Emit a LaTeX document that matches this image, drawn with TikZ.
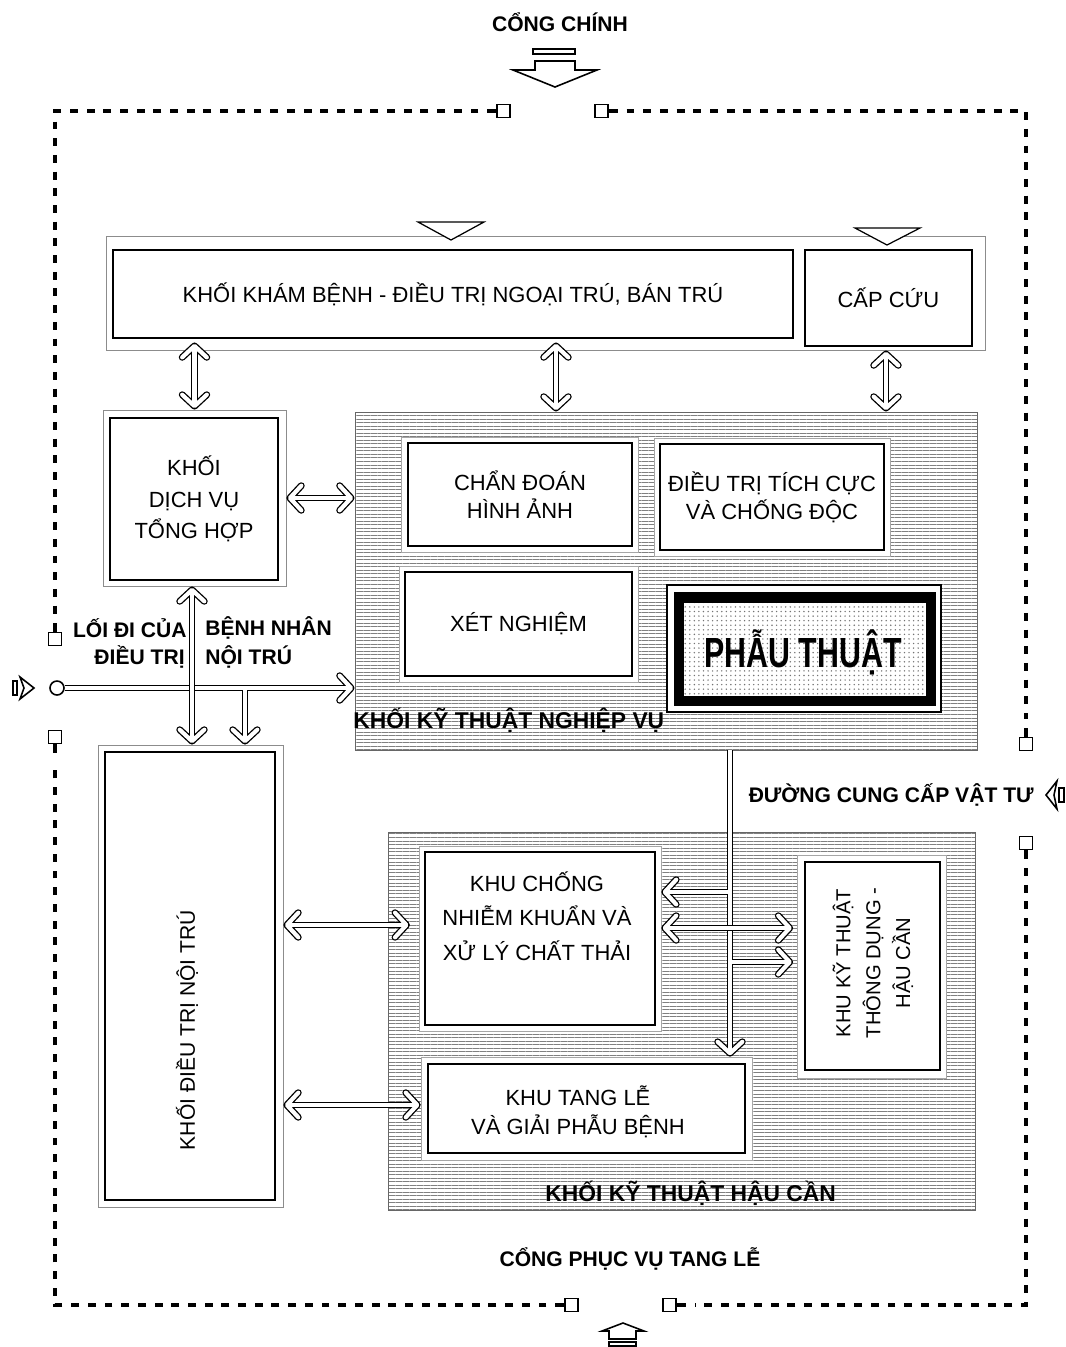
\documentclass[tikz,border=0pt]{standalone}
\usepackage{fontspec}
\usepackage{graphicx}
\setmainfont{Liberation Sans}
\usetikzlibrary{arrows.meta,patterns.meta,calc}
\begin{document}
\begin{tikzpicture}[x=0.02cm,y=-0.02cm,
  sz/.style 2 args={minimum width=#1*0.02cm, minimum height=#2*0.02cm},
  box/.style={draw, line width=1.1pt, inner sep=0pt, fill=white},
  wbox/.style={fill=white, draw=black!35, line width=0.4pt, inner sep=0pt},
  frame/.style={draw=black!45, line width=0.5pt, inner sep=0pt},
  hatch/.style={draw=black!60, line width=0.5pt, inner sep=0pt, pattern={Lines[angle=0,distance=2pt,line width=0.55pt]}, pattern color=black!50},
  chev/.tip={Straight Barb[length=6.5pt,width=14pt,round]},
  dar/.style 2 args={draw, line width=3.9pt, line cap=butt, -chev, shorten <=#1, shorten >=#2,
     postaction={draw=white, line width=2.4pt, line cap=butt, shorten <=#1, shorten >=#2+0.75pt, -chev}},
  dar2/.style 2 args={draw, line width=3.9pt, line cap=butt, chev-chev, shorten <=#1, shorten >=#2,
     postaction={draw=white, line width=2.4pt, line cap=butt, shorten <=#1+0.75pt, shorten >=#2+0.75pt, chev-chev}},
  perim/.style={line width=2pt, dash pattern=on 4.5pt off 5pt},
  stubl/.style={line width=2pt},
  gsq/.style={draw, line width=0.9pt, fill=white, minimum size=13*0.02cm, inner sep=0pt},
  lbl/.style={font=\bfseries\fontsize{12}{14}\selectfont, inner sep=0pt},
  lblb/.style={font=\bfseries\fontsize{13}{15}\selectfont, inner sep=0pt},
  txt/.style={font=\fontsize{12.5}{16}\selectfont, align=center, inner sep=0pt},
  gate/.style={draw, line width=0.9pt, line join=miter, fill=white},
]
\fill[white] (0,0) rectangle (1066,1347);
\useasboundingbox (0,0) rectangle (1066,1347);

% ---------- top group ----------
\node[frame, sz={879}{114}] (topgrp) at (545.5,293) {};
\node[box, sz={680}{88}, txt] (kham) at (453,294) {KHỐI KHÁM BỆNH - ĐIỀU TRỊ NGOẠI TRÚ, BÁN TRÚ};
\node[box, sz={167}{96}, txt] (capcuu) at (888.5,298) {CẤP CỨU};
\draw[gate, line width=0.7pt] (418,222) -- (484,222) -- (451,240) -- cycle;
\draw[gate, line width=0.7pt] (855,228) -- (920,228) -- (887,245) -- cycle;

% ---------- dich vu ----------
\node[frame, sz={183}{176}] (dichvuw) at (194.5,498) {};
\node[box, sz={168}{162}, txt, font=\fontsize{12.5}{18}\selectfont] (dichvu) at (194,499) {KHỐI\\DỊCH VỤ\\TỔNG HỢP};

% ---------- khoi ky thuat nghiep vu ----------
\node[hatch, sz={622}{338}] (ktnv) at (666,581) {};
\node[wbox, sz={237}{115}] (cdhaw) at (519.5,494.5) {};
\node[box, sz={224}{103}, txt] (cdha) at (520,494.5) {CHẨN ĐOÁN\\HÌNH ẢNH};
\node[wbox, sz={236}{118}] (dttcw) at (772,497) {};
\node[box, sz={224}{106}, txt] (dttc) at (772,497) {ĐIỀU TRỊ TÍCH CỰC\\VÀ CHỐNG ĐỘC};
\node[wbox, sz={239}{116}] (xnw) at (518.5,624) {};
\node[box, sz={227}{104}, txt] (xn) at (518.5,624) {XÉT NGHIỆM};
\node[wbox, draw=black, line width=0.6pt, sz={274}{127}] (ptw) at (804,648.5) {};
\node[draw, line width=6.2pt, inner sep=0pt, sz={252}{103.5}, preaction={fill=white}, pattern={Dots[distance=2.6pt,radius=0.45pt]}, pattern color=black!55] (pt) at (805,649.25) {};
\node[font=\bfseries\fontsize{24}{28}\selectfont, inner sep=0pt] (pttext) at (803,652) {\scalebox{0.72}[1]{PHẪU THUẬT}};
\node[lblb, anchor=west] (ktnvlbl) at (353,720) {KHỐI KỸ THUẬT NGHIỆP VỤ};

% ---------- khoi ky thuat hau can ----------
\node[hatch, sz={587}{378}] (ktkc) at (681.5,1021) {};
\node[wbox, sz={242}{185}] (knkw) at (540,938.5) {};
\node[box, sz={230}{173}] (knk) at (540,938.5) {};
\node[txt, font=\fontsize{12.5}{19.5}\selectfont] (knktext) at (537,916) {KHU CHỐNG\\NHIỄM KHUẨN VÀ\\XỬ LÝ CHẤT THẢI};
\node[wbox, sz={331}{103}] (ktlw) at (586.5,1108.5) {};
\node[box, sz={317}{89}] (ktl) at (586.5,1108.5) {};
\node[txt, font=\fontsize{12.5}{16.5}\selectfont] (ktltext) at (578,1112) {KHU TANG LỄ\\VÀ GIẢI PHẪU BỆNH};
\node[wbox, sz={149}{223}] (kttw) at (871.5,966.5) {};
\node[box, sz={135}{208}] (ktt) at (872.5,966) {};
\node[txt, rotate=90, font=\fontsize{11.5}{17}\selectfont] (ktttext) at (873,963) {KHU KỸ THUẬT\\THÔNG DỤNG -\\HẬU CẦN};
\node[lblb, anchor=west] (ktkclbl) at (545,1193) {KHỐI KỸ THUẬT HẬU CẦN};

% ---------- noi tru ----------
\node[frame, sz={185}{462}] (noitruw) at (190.5,976) {};
\node[box, sz={170}{448}] (noitru) at (190,976) {};
\node[txt, rotate=90, font=\fontsize{12}{14}\selectfont] (noitrutext) at (187,1030) {KHỐI ĐIỀU TRỊ NỘI TRÚ};

% ---------- labels ----------
\node[lbl] (cong1) at (560,22) {CỔNG CHÍNH};
\node[lbl] (cong2) at (630,1259) {CỔNG PHỤC VỤ TANG LỄ};
\node[lbl, anchor=east] (cungcap) at (1034,795) {ĐƯỜNG CUNG CẤP VẬT TƯ};
\node[lbl, anchor=east] (loidi1) at (187,628) {LỐI ĐI CỦA};
\node[lbl, anchor=west] (loidi2) at (205,628) {BỆNH NHÂN};
\node[lbl, anchor=east] (loidi3) at (185,657) {ĐIỀU TRỊ};
\node[lbl, anchor=west] (loidi4) at (205,657) {NỘI TRÚ};

% ---------- perimeter ----------
\node[gsq] (sqT1) at (503.5,111) {};
\node[gsq] (sqT2) at (601.5,111) {};
\node[gsq] (sqR1) at (1026,744) {};
\node[gsq] (sqR2) at (1026,843) {};
\node[gsq] (sqB1) at (571.5,1305) {};
\node[gsq] (sqB2) at (669.5,1305) {};
\node[gsq] (sqL1) at (55,639) {};
\node[gsq] (sqL2) at (55,737) {};
\node[draw, circle, line width=0.9pt, minimum size=14*0.02cm, inner sep=0pt] (gatein) at (57,688) {};

\draw[stubl] (sqT1.west) -- ++(-9,0) coordinate (pT1);
\draw[stubl] (sqT2.east) -- ++(9,0) coordinate (pT2);
\draw[stubl] (sqR1.north) -- ++(0,-9) coordinate (pR1);
\draw[stubl] (sqR2.south) -- ++(0,9) coordinate (pR2);
\draw[stubl] (sqB1.west) -- ++(-9,0) coordinate (pB1);
\draw[stubl] (sqB2.east) -- ++(9,0) coordinate (pB2);
\draw[stubl] (sqL1.north) -- ++(0,-9) coordinate (pL1);
\draw[stubl] (sqL2.south) -- ++(0,9) coordinate (pL2);
\coordinate (cTL) at (55,111);
\coordinate (cTR) at (1026,111);
\coordinate (cBR) at (1026,1305);
\coordinate (cBL) at (55,1305);
\draw[perim] ([xshift=-5pt]pT1) -- (cTL) -- ([yshift=5pt]pL1);
\draw[perim] ([xshift=5pt]pT2) -- (cTR) -- ([yshift=5pt]pR1);
\draw[perim] ([yshift=-5pt]pR2) -- (cBR) -- ([xshift=5pt]pB2);
\draw[perim] ([xshift=-5pt]pB1) -- (cBL) -- ([yshift=-5pt]pL2);

% ---------- gate symbols ----------
\draw[gate] (533,49) rectangle (575,54);
\draw[gate] (535,61) -- (575,61) -- (575,70) -- (597,70) -- (555,87) -- (513,70) -- (535,70) -- cycle;
\draw[gate] (602,1331) -- (623,1323) -- (644,1331) -- (636,1331) -- (636,1339) -- (609,1339) -- (609,1331) -- cycle;
\draw[gate] (609,1342) rectangle (636,1346);
\draw[gate] (13,681) rectangle (17,695);
\draw[gate] (20,677) -- (34,688) -- (20,699) -- (24,688) -- cycle;
\draw[gate] (1046,795) -- (1057,781) -- (1054,795) -- (1057,809) -- cycle;
\draw[gate] (1059,788) rectangle (1064,802);

% ---------- connectors ----------
\coordinate (xb) at (556,0);
\coordinate (xc) at (886,0);
\coordinate (xe) at (192,0);
\coordinate (xf) at (245,690.1);
\coordinate (xg) at (730,0);
\coordinate (g1) at (727.9,892);
\coordinate (yg2) at (0,928);
\coordinate (g3) at (732.1,962);
\coordinate (yh1) at (0,925);
\coordinate (yh2) at (0,1105);

\draw[dar2={2pt}{0pt}] (kham.south -| dichvuw.north) -- (dichvuw.north);
\draw[dar2={2pt}{0pt}] (kham.south -| xb) -- (ktnv.north -| xb);
\draw[dar2={2pt}{0pt}] (capcuu.south -| xc) -- (ktnv.north -| xc);
\draw[dar2={0pt}{0pt}] (dichvuw.east) -- (ktnv.west |- dichvuw.east);
\draw[dar={0pt}{0pt}] (gatein.east) -- (ktnv.west |- gatein.east);
\draw[dar={0pt}{0pt}] (xf) -- (noitruw.north -| xf);
\draw[dar2={0pt}{0pt}] (dichvuw.south -| xe) -- (noitruw.north -| xe);
\draw[dar={0pt}{0pt}] (ktnv.south -| xg) -- (ktlw.north -| xg);
\draw[dar={0pt}{0pt}] (g1) -- (knkw.east |- g1);
\draw[dar2={0pt}{2pt}] (knkw.east |- yg2) -- (kttw.west |- yg2);
\draw[dar={0pt}{2pt}] (g3) -- (kttw.west |- g3);
\draw[dar2={0pt}{5pt}] (noitruw.east |- yh1) -- (knkw.west |- yh1);
\draw[dar2={0pt}{0pt}] (noitruw.east |- yh2) -- (ktlw.west |- yh2);
\end{tikzpicture}
\end{document}
